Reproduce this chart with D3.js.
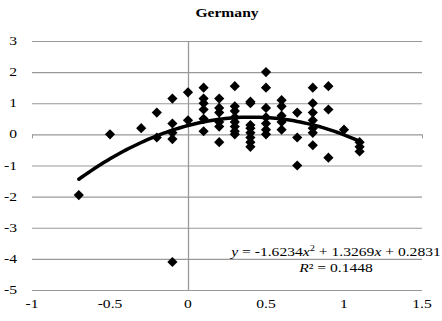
<!DOCTYPE html>
<html>
<head>
<meta charset="utf-8">
<script src="https://cdn.jsdelivr.net/npm/d3@7"></script>
<style>
  body { margin: 0; background: #fff; }
  text { font-family: "Liberation Serif", "Times New Roman", serif; }
</style>
</head>
<body>
<div id="chart-area"></div>
<script>
// data
const xs = [
  -0.7, -0.5, -0.3, -0.2, -0.2,
  -0.1, -0.1, -0.1, -0.1, -0.1,
  0.0, 0.0,
  0.1, 0.1, 0.1, 0.1, 0.1, 0.1,
  0.2, 0.2, 0.2, 0.2, 0.2, 0.2,
  0.3, 0.3, 0.3, 0.3, 0.3, 0.3, 0.3, 0.3,
  0.4, 0.4, 0.4, 0.4, 0.4, 0.4, 0.4, 0.4,
  0.5, 0.5, 0.5, 0.5, 0.5, 0.5, 0.5,
  0.6, 0.6, 0.6, 0.6, 0.6,
  0.7, 0.7, 0.7,
  0.8, 0.8, 0.8, 0.8, 0.8, 0.8, 0.8,
  0.9, 0.9, 0.9,
  1.0,
  1.1, 1.1, 1.1
];
const ys = [
  -1.95, 0.0, 0.2, 0.7, -0.1,
  1.15, 0.35, 0.05, -0.15, -4.1,
  1.35, 0.45,
  1.5, 1.15, 1.0, 0.8, 0.5, 0.1,
  1.15, 0.85, 0.7, 0.4, 0.25, -0.25,
  1.55, 0.9, 0.75, 0.55, 0.4, 0.25, 0.1, 0.0,
  1.05, 1.0, 0.3, 0.2, 0.05, -0.1, -0.25, -0.4,
  2.0, 1.5, 0.85, 0.55, 0.35, 0.15, 0.0,
  1.1, 0.9, 0.6, 0.4, 0.15,
  0.7, -0.1, -1.0,
  1.5, 1.0, 0.7, 0.45, 0.2, 0.05, -0.35,
  1.55, 0.8, -0.75,
  0.15,
  -0.25, -0.4, -0.55
];

// trendline shown on the chart
const trendCoef = [-1.6234, 1.3269, 0.2831];
const trendRange = [-0.7, 1.1];
const rSquared = 0.1448;

const xTicks = [-1, -0.5, 0, 0.5, 1, 1.5];
const yTicks = [3, 2, 1, 0, -1, -2, -3, -4, -5];

const W = 442, H = 321;
const margin = { left: 32, right: 20, top: 41, bottom: 31 };
const width = W - margin.left - margin.right;
const height = H - margin.top - margin.bottom;
const stretch = 1.3; // the original text is wider than it is tall

const svg = d3.select('#chart-area')
  .append('svg')
    .attr('width', W)
    .attr('height', H);

const g = svg.append('g')
  .attr('transform', `translate(${margin.left}, ${margin.top})`);

const x = d3.scaleLinear().domain([-1, 1.5]).range([0, width]);
const y = d3.scaleLinear().domain([-5, 3]).range([height, 0]);

const place = (px, py) => `translate(${px}, ${py}) scale(${stretch}, 1)`;

// title
svg.append('text')
  .attr('transform', place(227, 17))
  .attr('text-anchor', 'middle')
  .attr('font-size', '12px')
  .attr('font-weight', 'bold')
  .text('Germany');

// horizontal gridlines
g.selectAll('.grid')
  .data(yTicks)
  .enter()
    .append('line')
      .attr('class', 'grid')
      .attr('x1', 0)
      .attr('x2', width)
      .attr('y1', d => y(d) + 0.5)
      .attr('y2', d => y(d) + 0.5)
      .attr('stroke', '#999')
      .attr('stroke-width', 1.2);

// vertical axis at x = 0
g.append('line')
  .attr('x1', x(0) + 0.5)
  .attr('x2', x(0) + 0.5)
  .attr('y1', 0)
  .attr('y2', height)
  .attr('stroke', '#999')
  .attr('stroke-width', 1.3);

// small end ticks on the y = 0 line
[-1, 1.5].forEach(v => {
  g.append('line')
    .attr('x1', x(v) + 0.5)
    .attr('x2', x(v) + 0.5)
    .attr('y1', y(0))
    .attr('y2', y(0) + 4)
    .attr('stroke', '#999');
});

// y labels
g.selectAll('.ylab')
  .data(yTicks)
  .enter()
    .append('text')
      .attr('class', 'ylab')
      .attr('transform', d => place(-15, y(d) + 4))
      .attr('text-anchor', 'end')
      .attr('font-size', '12px')
      .text(d => d);

// x labels
g.selectAll('.xlab')
  .data(xTicks)
  .enter()
    .append('text')
      .attr('class', 'xlab')
      .attr('transform', d => place(x(d), height + 18))
      .attr('text-anchor', 'middle')
      .attr('font-size', '12px')
      .text(d => d);

// points
const diamond = d3.symbol().type(d3.symbolSquare).size(52);
g.selectAll('.pt')
  .data(xs.map((v, i) => [v, ys[i]]))
  .enter()
    .append('path')
      .attr('class', 'pt')
      .attr('d', diamond)
      .attr('transform', d => `translate(${x(d[0])}, ${y(d[1])}) rotate(45)`)
      .attr('fill', 'black');

// trendline
const trendX = d3.range(trendRange[0], trendRange[1] + 0.001, 0.02);
const line = d3.line()
  .x(d => x(d))
  .y(d => y(trendCoef[0] * d * d + trendCoef[1] * d + trendCoef[2]));
g.append('path')
  .datum(trendX)
  .attr('d', line)
  .attr('fill', 'none')
  .attr('stroke', 'black')
  .attr('stroke-width', 3.5)
  .attr('stroke-linecap', 'round');

// equation label
const eq = svg.append('text')
  .attr('transform', place(336, 256))
  .attr('text-anchor', 'middle')
  .attr('font-size', '12px');
eq.append('tspan').attr('font-style', 'italic').text('y');
eq.append('tspan').text(` = ${trendCoef[0]}`);
eq.append('tspan').attr('font-style', 'italic').text('x');
eq.append('tspan').attr('font-size', '8px').attr('dy', -5).text('2');
eq.append('tspan').attr('dy', 5).text(` + ${trendCoef[1]}`);
eq.append('tspan').attr('font-style', 'italic').text('x');
eq.append('tspan').text(` + ${trendCoef[2]}`);

const r2 = svg.append('text')
  .attr('transform', place(336, 272))
  .attr('text-anchor', 'middle')
  .attr('font-size', '12px');
r2.append('tspan').attr('font-style', 'italic').text('R');
r2.append('tspan').text(`² = ${rSquared}`);
</script>
</body>
</html>
